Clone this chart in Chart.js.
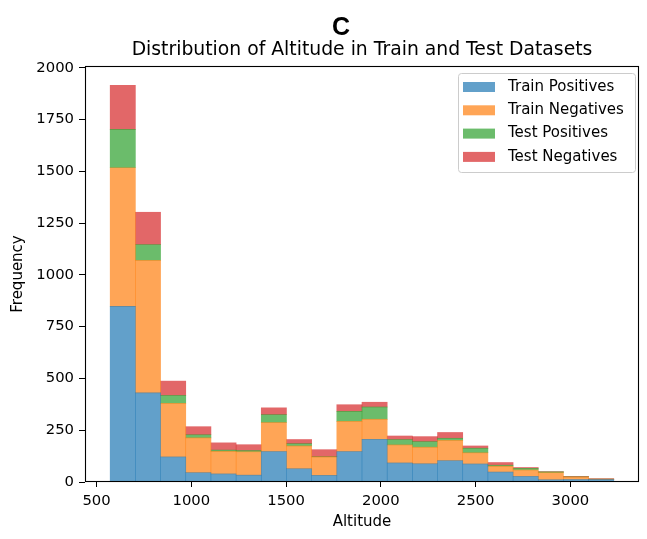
<!DOCTYPE html>
<html lang="en">
<head>
<meta charset="utf-8">
<title>Altitude Distribution</title>
<script src="https://cdn.jsdelivr.net/npm/chart.js"></script>
<style>
  html, body { margin: 0; padding: 0; background: #fff; }
</style>
</head>
<body>
<canvas id="myChart" width="647" height="539"></canvas>
<script>
// histogram bins (equal width)
const binStart = 572;
const binWidth = 132.85;

// counts per bin
const trainPos = [848, 430, 121, 45, 39, 33, 147, 64, 32, 147, 206, 92, 88, 103, 87, 48, 27, 11, 12, 12];
const trainNeg = [669, 640, 259, 168, 109, 113, 140, 110, 89, 146, 97, 87, 80, 98, 54, 28, 31, 34, 12, 2];
const testPos  = [185, 76, 38, 15, 6, 6, 38, 11, 1, 48, 59, 26, 27, 10, 22, 5, 8, 4, 1, 0];
const testNeg  = [213, 156, 69, 39, 35, 28, 33, 20, 34, 32, 23, 17, 24, 28, 11, 13, 4, 1, 2, 2];

const seriesLabels = ['Train Positives', 'Train Negatives', 'Test Positives', 'Test Negatives'];
const xTicks = [500, 1000, 1500, 2000, 2500, 3000];
const yTicks = [0, 250, 500, 750, 1000, 1250, 1500, 1750, 2000];

const colors = [
    'rgba(31,119,180,0.7)',
    'rgba(255,127,14,0.7)',
    'rgba(44,160,44,0.7)',
    'rgba(214,39,40,0.7)'
];

const toPoints = arr => arr.map((v, i) => ({ x: binStart + binWidth * (i + 0.5), y: v }));

const font = { family: 'DejaVu Sans', size: 14.8 };

// box around the plot, titles and the legend inside the axes (matplotlib style)
const framePlugin = {
    id: 'frame',
    afterDatasetsDraw(chart) {
        const { ctx, chartArea: a } = chart;
        ctx.save();
        ctx.strokeStyle = '#000';
        ctx.lineWidth = 1.1;
        ctx.strokeRect(Math.round(a.left) + 0.5, Math.round(a.top) + 0.5,
            Math.round(a.right - a.left) - 1, Math.round(a.bottom - a.top) - 1);
        ctx.restore();
    },
    afterDraw(chart) {
        const ctx = chart.ctx;
        const a = chart.chartArea;
        ctx.save();
        ctx.fillStyle = '#000';
        ctx.textAlign = 'center';
        ctx.textBaseline = 'middle';
        ctx.font = 'bold 25px "Liberation Sans"';
        ctx.fillText('C', 341, 28);
        ctx.font = '18.8px "DejaVu Sans"';
        ctx.fillText('Distribution of Altitude in Train and Test Datasets', (a.left + a.right) / 2, 50);

        const ds = chart.data.datasets;
        const x0 = 458, y0 = 73, w = 177, h = 99, r = 3;
        ctx.beginPath();
        ctx.roundRect(x0 + 0.5, y0 + 0.5, w, h, r);
        ctx.fillStyle = 'rgba(255,255,255,0.8)';
        ctx.fill();
        ctx.strokeStyle = '#cccccc';
        ctx.lineWidth = 1;
        ctx.stroke();
        ctx.font = '15px "DejaVu Sans"';
        ctx.textBaseline = 'middle';
        ctx.textAlign = 'left';
        ds.forEach((d, i) => {
            const cy = 87 + i * 23.3;
            ctx.fillStyle = d.backgroundColor;
            ctx.fillRect(463, cy - 5, 32, 10);
            ctx.fillStyle = '#000';
            ctx.fillText(d.label, 508, cy);
        });
        ctx.restore();
    }
};

const ctx = document.getElementById('myChart').getContext('2d');
new Chart(ctx, {
    type: 'bar',
    data: {
        datasets: [trainPos, trainNeg, testPos, testNeg].map((arr, i) => ({
            label: seriesLabels[i],
            data: toPoints(arr),
            backgroundColor: colors[i],
            borderWidth: 0,
            barPercentage: 1,
            categoryPercentage: 1
        }))
    },
    options: {
        responsive: false,
        animation: false,
        layout: { padding: { left: 0, right: 8, top: 66, bottom: 0 } },
        plugins: {
            legend: { display: false },
            tooltip: { enabled: false }
        },
        scales: {
            x: {
                type: 'linear',
                stacked: true,
                offset: false,
                min: 439,
                max: 3362,
                afterFit: s => { s.height = 57; },
                afterBuildTicks: s => { s.ticks = xTicks.map(v => ({ value: v })); },
                grid: { offset: false, drawOnChartArea: false, drawTicks: true, tickLength: 5, tickColor: '#000' },
                border: { display: false },
                ticks: { font, color: '#000', padding: 5, maxRotation: 0, autoSkip: false, callback: v => String(v) },
                title: { display: true, text: 'Altitude', font: { family: 'DejaVu Sans', size: 15 }, color: '#000', padding: { top: 0, bottom: 8 } }
            },
            y: {
                stacked: true,
                min: 0,
                max: 2008,
                afterFit: s => { s.width = 85; },
                afterBuildTicks: s => { s.ticks = yTicks.map(v => ({ value: v })); },
                grid: { drawOnChartArea: false, drawTicks: true, tickLength: 6, tickColor: '#000' },
                border: { display: false },
                ticks: { font, color: '#000', padding: 5, autoSkip: false, callback: v => String(v) },
                title: { display: true, text: 'Frequency', font: { family: 'DejaVu Sans', size: 15 }, color: '#000', padding: { top: 9.6, bottom: 0 } }
            }
        }
    },
    plugins: [framePlugin]
});
</script>
</body>
</html>
